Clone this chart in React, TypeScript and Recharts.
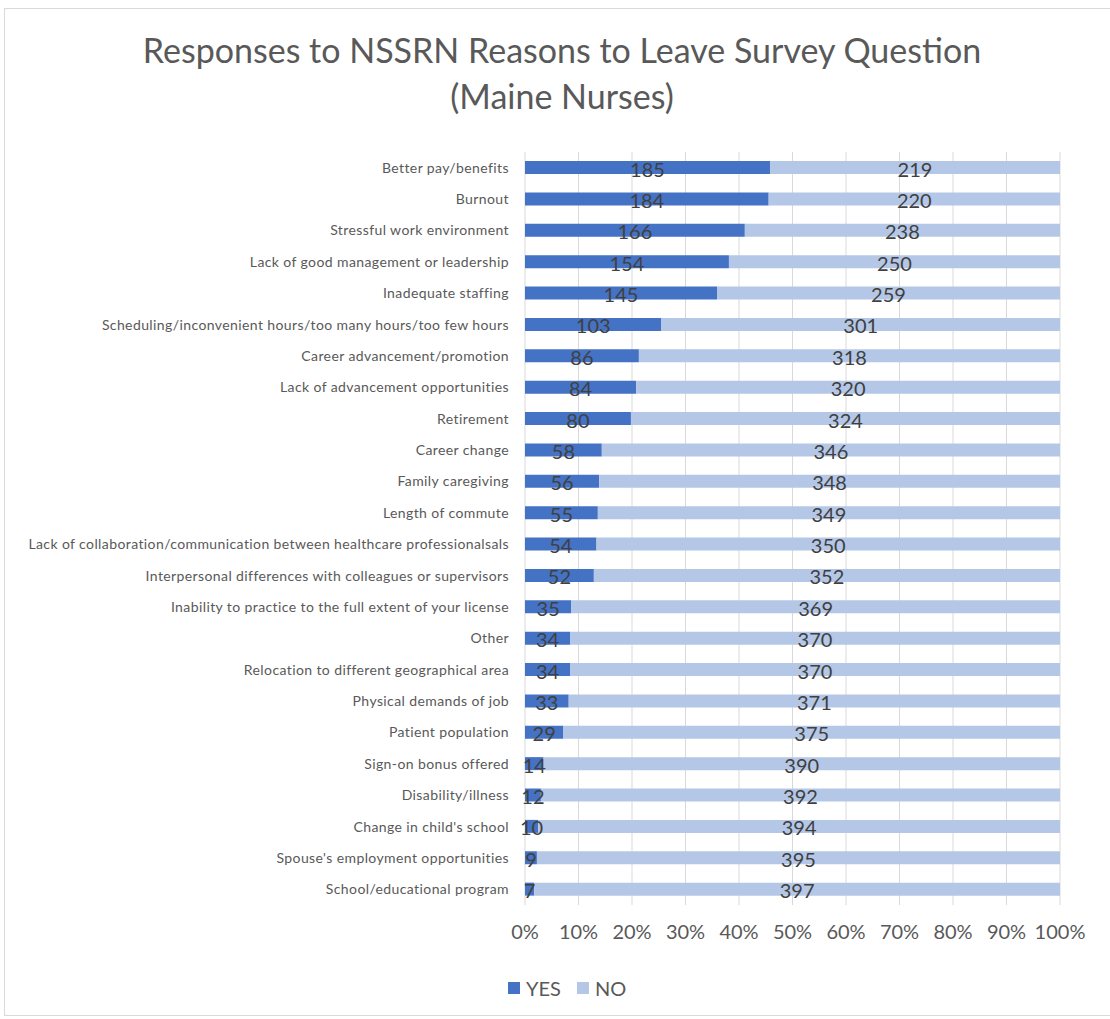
import React from 'react';
import {
  BarChart,
  Bar,
  XAxis,
  YAxis,
  CartesianGrid,
  LabelList,
} from 'recharts';

const reasons = [
  'Better pay/benefits',
  'Burnout',
  'Stressful work environment',
  'Lack of good management or leadership',
  'Inadequate staffing',
  'Scheduling/inconvenient hours/too many hours/too few hours',
  'Career advancement/promotion',
  'Lack of advancement opportunities',
  'Retirement',
  'Career change',
  'Family caregiving',
  'Length of commute',
  'Lack of collaboration/communication between healthcare professionalsals',
  'Interpersonal differences with colleagues or supervisors',
  'Inability to practice to the full extent of your license',
  'Other',
  'Relocation to different geographical area',
  'Physical demands of job',
  'Patient population',
  'Sign-on bonus offered',
  'Disability/illness',
  "Change in child's school",
  "Spouse's employment opportunities",
  'School/educational program',
];

const yesCounts = [185, 184, 166, 154, 145, 103, 86, 84, 80, 58, 56, 55, 54, 52, 35, 34, 34, 33, 29, 14, 12, 10, 9, 7];
const noCounts = [219, 220, 238, 250, 259, 301, 318, 320, 324, 346, 348, 349, 350, 352, 369, 370, 370, 371, 375, 390, 392, 394, 395, 397];

const xTicks = [0, 0.1, 0.2, 0.3, 0.4, 0.5, 0.6, 0.7, 0.8, 0.9, 1];

const data = reasons.map((reason, i) => ({
  reason,
  yes: yesCounts[i],
  no: noCounts[i],
}));

const FONT = 'Lato, "Open Sans", sans-serif';
const YES_COLOR = '#4472C4';
const NO_COLOR = '#B4C7E7';

export default function App() {
  return (
    <div
      style={{
        position: 'absolute',
        left: 0,
        top: 0,
        width: 1110,
        height: 1019,
        background: '#fff',
        fontFamily: FONT,
      }}
    >
      {/* chart frame */}
      <div
        style={{
          position: 'absolute',
          left: 4,
          top: 8,
          width: 1110,
          height: 1008,
          border: '1px solid #d9d9d9',
          boxSizing: 'border-box',
        }}
      />

      {/* title */}
      <div
        style={{
          position: 'absolute',
          left: 0,
          top: 27,
          width: 1124,
          textAlign: 'center',
          fontSize: 34,
          lineHeight: '46px',
          color: '#595959',
        }}
      >
        Responses to NSSRN Reasons to Leave Survey Question
        <br />
        (Maine Nurses)
      </div>

      <div style={{ position: 'absolute', left: 0, top: 0 }}>
        <BarChart
          width={1110}
          height={1019}
          data={data}
          layout="vertical"
          stackOffset="expand"
          barSize={13}
          margin={{ top: 152, right: 50, bottom: 54, left: 0 }}
        >
          <CartesianGrid stroke="#d9d9d9" horizontal={false} />
          <XAxis
            type="number"
            domain={[0, 1]}
            ticks={xTicks}
            tickFormatter={(v: number) => `${Math.round(v * 100)}%`}
            tick={{ fill: '#595959', fontSize: 20, fontFamily: FONT }}
            tickLine={false}
            axisLine={false}
            tickMargin={14}
            height={60}
            interval={0}
          />
          <YAxis
            type="category"
            dataKey="reason"
            width={525}
            tick={{ fill: '#595959', fontSize: 14, fontFamily: FONT, letterSpacing: 0.4 }}
            tickLine={false}
            axisLine={false}
            tickMargin={10}
            interval={0}
          />
          <Bar dataKey="yes" stackId="a" fill={YES_COLOR} isAnimationActive={false}>
            <LabelList
              dataKey="yes"
              position="center"
              fill="#404040"
              fontSize={20}
              fontFamily={FONT}
              dy={2}
            />
          </Bar>
          <Bar dataKey="no" stackId="a" fill={NO_COLOR} isAnimationActive={false}>
            <LabelList
              dataKey="no"
              position="center"
              fill="#404040"
              fontSize={20}
              fontFamily={FONT}
              dy={2}
            />
          </Bar>
        </BarChart>
      </div>

      {/* legend */}
      <div
        style={{
          position: 'absolute',
          left: 508,
          top: 976,
          display: 'flex',
          alignItems: 'center',
          fontSize: 20,
          color: '#595959',
        }}
      >
        <span style={{ width: 12, height: 12, background: YES_COLOR, display: 'inline-block', marginRight: 6 }} />
        <span style={{ marginRight: 16 }}>YES</span>
        <span style={{ width: 12, height: 12, background: NO_COLOR, display: 'inline-block', marginRight: 6 }} />
        <span>NO</span>
      </div>
    </div>
  );
}
